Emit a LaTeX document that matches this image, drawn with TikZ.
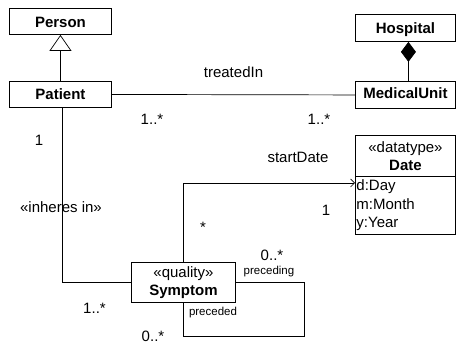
\documentclass[tikz,border=0pt]{standalone}
\usepackage{fontspec}
\setmainfont{Liberation Sans}
\usetikzlibrary{arrows.meta}
\begin{document}
\begin{tikzpicture}[x=1pt,y=-1pt,
  every node/.style={font=\fontsize{15}{18.5}\selectfont, inner sep=0pt},
  box/.style={draw, line width=0.9pt, anchor=north west},
  conn/.style={line width=0.7pt},
  lbl/.style={anchor=base},
  small/.style={anchor=base, font=\fontsize{11.5}{13}\selectfont}]
\useasboundingbox (0,0) rectangle (456,344);
% classes
\node[box, minimum width=102pt, minimum height=26pt, text height=19pt, text depth=7pt] (person) at (9,8) {\textbf{Person}};
\node[box, minimum width=102pt, minimum height=26pt, text height=18pt, text depth=8pt] (patient) at (9,81) {\textbf{Patient}};
\node[box, minimum width=100pt, minimum height=27pt, text height=19pt, text depth=8pt] (hosp) at (355,14) {\textbf{Hospital}};
\node[box, minimum width=100pt, minimum height=27pt, text height=17.5pt, text depth=9.5pt] (mu) at (355,81) {\textbf{MedicalUnit}};
\node[box, minimum width=104pt, minimum height=40pt, align=center] (symptom) at (131,262) {«quality»\\[-1pt]\textbf{Symptom}};
\node[box, minimum width=100pt, minimum height=41pt, align=center] (dhead) at (355,135) {«datatype»\\\textbf{Date}};
\node[box, minimum width=100pt, minimum height=58pt, text width=98pt, inner xsep=1pt, align=left] (dattr) at (355,176) {d:Day\\m:Month\\y:Year};
% connectors
\draw[conn, -{Triangle[open,length=16pt,width=22pt]}] (patient.north) -- (person.south);
\draw[conn, -{Diamond[length=20pt,width=15pt]}] ([xshift=3pt]mu.north) -- ([xshift=3pt]hosp.south);
\draw[conn] (patient.east) -- (mu.west);
\draw[conn] ([xshift=2pt]patient.south) |- (symptom.west);
\draw[conn, -{Straight Barb[length=4pt,width=8pt]}] (symptom.north) |- ([yshift=-7pt]dattr.north west);
\draw[conn] (symptom.east) -- ++(68,0) |- ([yshift=-33pt]symptom.south) -- (symptom.south);
% labels
\node[lbl] (ltreated) at (233.5,78) {treatedIn};
\node[lbl] (lm1) at (152,125) {1..*};
\node[lbl] (lm2) at (319,125) {1..*};
\node[lbl] (lm3) at (39,146) {1};
\node[lbl] (linheres) at (61,213) {«inheres in»};
\node[lbl] (lstart) at (298,163) {startDate};
\node[lbl] (lm4) at (326,216) {1};
\node[lbl] (lm5) at (203,233) {*};
\node[lbl] (lm6) at (272,261) {0..*};
\node[small] (lpreceding) at (269,275) {preceding};
\node[small] (lpreceded) at (213,316) {preceded};
\node[lbl] (lm7) at (94.5,314) {1..*};
\node[lbl] (lm8) at (153,342) {0..*};
\end{tikzpicture}
\end{document}
